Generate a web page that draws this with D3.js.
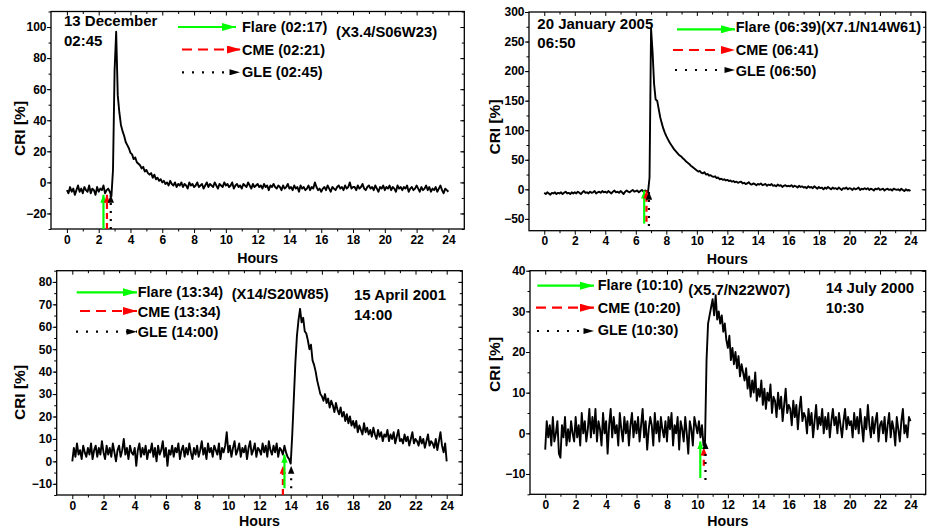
<!DOCTYPE html>
<html>
<head>
<meta charset="utf-8">
<script src="https://cdn.jsdelivr.net/npm/d3@7"></script>
<style>
  body { margin: 0; background: #fff; }
  svg { display: block; }
  text { font-family: "Liberation Sans", Arial, sans-serif; font-weight: bold; fill: #000; }
</style>
</head>
<body>
<svg width="927" height="529"></svg>
<script>
// sampling times (hours, every 6 minutes)
const hours = d3.range(241).map(i => i / 10);

// CRI [%]
const criDec13 = [
  -5,-7,-3,-6,-4,-8,-5,-2,-6,-4,-7,-3,-5,-6,-2,-7,-4,-5,-8,-3,-6,-4,-5,-2,-7,-5,-4,-6,
  -9,8,72,97,56,45,37,33,30,26,24,22,19,18,15,16,13,12,11,9,10,7,8,6,5,6,3,5,2,3,1,2,
  0,1,-1,0,-2,1,-1,-2,0,-3,-1,
  -2,0,-3,-1,-2,-4,0,-2,-1,-3,
  -2,0,-3,-2,-1,-4,-2,0,-3,-1,
  -2,-3,0,-2,-4,-1,-2,-3,0,-2,
  -1,-3,-2,0,-4,-2,-1,-3,-2,-4,
  -1,-2,-3,0,-2,-4,-1,-3,-2,-1,
  -3,-2,-4,-1,-3,-2,-5,-2,-3,-1,
  -3,-4,-2,-3,-5,-2,-4,-3,-1,-4,
  -3,-5,-2,-4,-3,-6,-2,-4,-3,-5,
  -4,-2,-5,-3,-4,0,-3,-5,-4,-6,
  -4,-3,-5,-2,-4,-6,-3,-4,-5,-3,
  -2,-4,-3,-5,-2,-4,-3,0,-4,-3,
  -3,-5,-2,-4,-3,-1,-4,-5,-3,-2,
  -4,-3,-5,-2,-4,-6,-3,-4,-2,-5,
  -3,-4,-2,-5,-3,-4,-6,-2,-4,-3,
  -5,-3,-4,-2,-6,-4,-3,-5,-4,-2,
  -4,-6,-3,-5,-4,-2,-5,-3,-6,-4,
  -5,-3,-6,-4,-2,-5,-7,-4,-5,-6
];

const criJan20 = [
  -6,-8,-5,-7,-9,-6,-7,-5,-8,-6,
  -7,-5,-8,-6,-4,-7,-6,-8,-5,-7,
  -5,-7,-4,-6,-8,-5,-3,-6,-5,-7,
  -4,-6,-5,-3,-7,-5,-4,-6,-3,-5,
  -4,-6,-3,-5,-7,-4,-2,-5,-4,-6,
  -3,-5,-8,-4,-2,-4,-5,-3,-1,-4,
  -3,-2,-5,-3,-1,-4,-2,-3,-5,
  20,272,232,178,152,150,136,122,112,103,96,90,85,80,76,72,68,65,62,59,57,55,
  52,50,47,45,43,40,38,36,34,32,
  30,31,28,27,29,25,26,23,24,22,
  21,22,19,20,17,18,16,17,15,16,
  14,15,13,14,12,13,11,12,13,10,
  11,9,10,12,9,8,10,9,7,9,
  8,10,7,8,9,6,8,7,9,6,
  7,5,8,6,7,4,6,7,5,6,
  5,7,4,6,5,3,6,4,5,3,
  4,2,5,3,4,2,5,3,1,4,
  2,3,0,3,1,4,2,0,3,1,
  2,0,3,1,-1,2,1,3,0,2,
  1,-1,2,0,1,3,-1,1,0,2,
  0,2,-1,1,0,-2,1,0,2,-1,
  0,1,-2,0,1,-1,0,-2,1,0,
  -1,0,-2,1,-1,-3,0,-2,-1,-3
];

const criApr15 = [
  0,6,2,8,3,5,1,7,4,2,
  6,3,8,1,5,7,2,6,3,9,
  4,1,7,3,6,2,8,4,0,5,
  7,2,5,10,3,6,1,7,4,3,
  6,-2,5,8,2,6,3,7,1,5,
  4,8,2,6,0,7,3,5,9,2,
  6,-2,5,3,7,2,6,4,8,1,
  5,7,2,6,3,8,4,1,6,3,
  7,2,5,9,3,6,1,8,4,6,
  2,7,5,3,8,1,6,4,7,13,
  4,7,2,6,9,3,5,8,2,6,
  4,7,1,6,9,3,5,8,2,6,
  5,3,8,4,7,2,9,5,3,7,
  4,8,2,6,5,3,7,4,2,1,
  -1,12,28,44,56,63,68,62,64,58,57,54,50,52,45,43,40,36,33,30,29,
  27,30,26,28,24,27,25,22,26,23,
  21,24,20,22,18,21,17,20,16,18,
  15,18,13,16,14,12,17,13,15,12,
  14,11,15,12,10,14,11,13,9,12,
  11,14,9,12,10,13,8,11,14,9,
  10,8,12,9,11,7,10,13,8,10,
  9,7,11,8,10,6,9,12,7,9,
  8,6,10,5,9,13,7,4,8,0
];

const criJul14 = [
  -4,3,-1,2,-3,4,-2,0,3,-5,
  -6,2,-1,4,-3,1,-2,3,0,-2,
  4,-1,2,-3,5,0,3,-2,1,6,
  -1,4,0,6,-2,3,1,-3,5,0,
  3,-5,2,6,-1,4,0,2,-3,5,
  1,-2,4,0,3,-3,2,5,-1,3,
  0,4,-2,2,6,-1,3,-4,1,4,
  2,-3,5,0,3,-2,4,1,-1,3,
  -2,4,1,5,-3,2,0,4,-4,3,
  1,-2,4,0,-5,3,1,-3,4,2,
  0,3,-1,2,-3,
  -2,18,27,29,31,33,29,34,28,30,27,29,25,27,23,21,
  24,18,21,17,20,16,19,14,17,15,
  13,16,11,14,9,13,10,15,8,11,
  9,13,7,11,6,10,8,12,5,9,
  8,4,10,6,9,3,7,11,5,7,
  6,2,8,4,7,1,6,9,3,5,
  4,0,6,2,5,-1,3,7,1,4,
  2,6,0,4,1,5,-1,3,6,2,
  4,0,5,2,-1,3,6,1,4,2,
  3,-1,5,1,4,0,6,2,-2,4,
  1,7,2,-1,4,0,3,5,-2,2,
  3,0,4,-2,2,5,-1,3,1,-3,
  4,1,-2,3,6,0,2,-1,4,3
];

// event arrows: time [h], tail and tip [%]
const eventsDec13 = [
  { kind: 'flare', t: 2.30, from: -30, to: -8 },
  { kind: 'cme',   t: 2.52, from: -30, to: -8 },
  { kind: 'gle',   t: 2.76, from: -30, to: -8 }
];
const eventsJan20 = [
  { kind: 'flare', t: 6.55, from: -58, to: -2 },
  { kind: 'cme',   t: 6.70, from: -55, to: -2 },
  { kind: 'gle',   t: 6.86, from: -62, to: -4 }
];
const eventsApr15 = [
  { kind: 'cme',   t: 13.50, from: -15, to: -2 },
  { kind: 'flare', t: 13.60, from: -12, to: 3 },
  { kind: 'gle',   t: 14.03, from: -12, to: -2 }
];
const eventsJul14 = [
  { kind: 'flare', t: 10.19, from: -11, to: -2 },
  { kind: 'cme',   t: 10.42, from: -8,  to: -3.5 },
  { kind: 'gle',   t: 10.53, from: -11.5, to: -2 }
];

const legendDec13 = ['Flare (02:17)', 'CME (02:21)', 'GLE (02:45)'];
const legendJan20 = ['Flare (06:39)(X7.1/N14W61)', 'CME (06:41)', 'GLE (06:50)'];
const legendApr15 = ['Flare (13:34)', 'CME (13:34)', 'GLE (14:00)'];
const legendJul14 = ['Flare (10:10)', 'CME (10:20)', 'GLE (10:30)'];

// styles of the three arrow kinds
const arrowStyle = {
  flare: { color: '#00ff00', dash: null,   width: 2.2 },
  cme:   { color: '#ff0000', dash: '10,6', width: 2.2 },
  gle:   { color: '#000000', dash: '2,8',  width: 2.2 }
};

// layout of each panel (pixels)
const panels = [
  {
    values: criDec13, events: eventsDec13, legend: legendDec13,
    box: { x0: 51, x1: 464.3, y0: 11.5, y1: 229 },
    yDomain: [-30, 110], yTicks: d3.range(-20, 101, 20), yMinor: d3.range(-30, 111, 10),
    legendPos: [{ x1: 178, x2: 236, y: 27 }, { x1: 182, x2: 241, y: 49.5 }, { x1: 182, x2: 240, y: 72.3 }],
    legendTextX: 242, legendBase: [31.8, 54.6, 77.4],
    notes: [
      { text: '13 December', x: 64, y: 25.5, size: 15 },
      { text: '02:45', x: 64, y: 45.5, size: 15 },
      { text: '(X3.4/S06W23)', x: 336, y: 37, size: 14.8 }
    ],
    yTitle: { x: 25, y: 128.5 }, xTitleY: 263
  },
  {
    values: criJan20, events: eventsJan20, legend: legendJan20,
    box: { x0: 529, x1: 925.7, y0: 12, y1: 230.7 },
    yDomain: [-70, 300], yTicks: d3.range(-50, 301, 50), yMinor: d3.range(-50, 301, 25),
    legendPos: [{ x1: 677, x2: 735, y: 29.3 }, { x1: 673, x2: 735, y: 50 }, { x1: 675, x2: 735, y: 70 }],
    legendTextX: 735.7, legendBase: [32, 54.6, 76.2],
    notes: [
      { text: '20 January 2005', x: 537.3, y: 28.6, size: 15 },
      { text: '06:50', x: 537.3, y: 48, size: 15 }
    ],
    yTitle: { x: 500, y: 127 }, xTitleY: 263.5
  },
  {
    values: criApr15, events: eventsApr15, legend: legendApr15,
    box: { x0: 56.7, x1: 462.3, y0: 270.7, y1: 495 },
    yDomain: [-15, 85], yTicks: d3.range(-10, 81, 10), yMinor: d3.range(-15, 86, 5),
    legendPos: [{ x1: 76.7, x2: 137, y: 292.3 }, { x1: 80, x2: 137, y: 311 }, { x1: 76, x2: 137, y: 331.7 }],
    legendTextX: 137.7, legendBase: [297, 317, 337],
    notes: [
      { text: '(X14/S20W85)', x: 231.7, y: 298.5, size: 14.8 },
      { text: '15 April 2001', x: 354, y: 300.3, size: 15 },
      { text: '14:00', x: 354, y: 320.3, size: 15 }
    ],
    yTitle: { x: 25, y: 392.5 }, xTitleY: 526
  },
  {
    values: criJul14, events: eventsJul14, legend: legendJul14,
    box: { x0: 530, x1: 925.7, y0: 270.7, y1: 494.3 },
    yDomain: [-15, 40], yTicks: d3.range(-10, 41, 10), yMinor: d3.range(-15, 41, 5),
    legendPos: [{ x1: 537.3, x2: 594, y: 285.7 }, { x1: 536, x2: 594, y: 307.7 }, { x1: 537, x2: 594, y: 331 }],
    legendTextX: 597.7, legendBase: [290.4, 313, 335.4],
    notes: [
      { text: '(X5.7/N22W07)', x: 688.3, y: 294.6, size: 14.8 },
      { text: '14 July 2000', x: 825.7, y: 293, size: 15 },
      { text: '10:30', x: 825.7, y: 313, size: 15 }
    ],
    yTitle: { x: 500, y: 364.5 }, xTitleY: 526
  }
];

const svg = d3.select('svg');
const kinds = ['flare', 'cme', 'gle'];

// arrow heads
const defs = svg.append('defs');
kinds.forEach(k => {
  // big head for the legend
  defs.append('marker')
    .attr('id', `big-${k}`)
    .attr('markerUnits', 'userSpaceOnUse')
    .attr('viewBox', '0 0 14 8')
    .attr('markerWidth', k === 'gle' ? 11 : 14)
    .attr('markerHeight', k === 'gle' ? 6 : 8)
    .attr('refX', 14).attr('refY', 4)
    .attr('orient', 'auto')
    .append('path').attr('d', 'M0,0 L14,4 L0,8 Z')
    .attr('fill', arrowStyle[k].color);
  // small head for the event arrows
  defs.append('marker')
    .attr('id', `small-${k}`)
    .attr('markerUnits', 'userSpaceOnUse')
    .attr('viewBox', '0 0 10 8')
    .attr('markerWidth', 8)
    .attr('markerHeight', 7)
    .attr('refX', 10).attr('refY', 4)
    .attr('orient', 'auto')
    .append('path').attr('d', 'M0,0 L10,4 L0,8 Z')
    .attr('fill', arrowStyle[k].color);
});

panels.forEach((p, i) => {
  const b = p.box;
  const x = d3.scaleLinear().domain([-1, 25]).range([b.x0, b.x1]);
  const y = d3.scaleLinear().domain(p.yDomain).range([b.y1, b.y0]);
  const g = svg.append('g');

  // axes: out on bottom/left, in on top/right
  const bottom = g.append('g').attr('transform', `translate(0,${b.y1})`);
  bottom.call(d3.axisBottom(x).tickValues(d3.range(1, 25, 2)).tickSize(2.5).tickFormat(''));
  bottom.append('g').call(d3.axisBottom(x).tickValues(d3.range(0, 25, 2)).tickSize(4).tickPadding(2));
  const top = g.append('g').attr('transform', `translate(0,${b.y0})`);
  top.call(d3.axisTop(x).tickValues(d3.range(1, 25, 2)).tickSize(-2.5).tickFormat(''));
  top.append('g').call(d3.axisTop(x).tickValues(d3.range(0, 25, 2)).tickSize(-4).tickFormat(''));
  const left = g.append('g').attr('transform', `translate(${b.x0},0)`);
  left.call(d3.axisLeft(y).tickValues(p.yMinor).tickSize(2.5).tickFormat(''));
  left.append('g').call(d3.axisLeft(y).tickValues(p.yTicks).tickSize(4).tickPadding(0.5));
  const right = g.append('g').attr('transform', `translate(${b.x1},0)`);
  right.call(d3.axisRight(y).tickValues(p.yMinor).tickSize(-2.5).tickFormat(''));
  right.append('g').call(d3.axisRight(y).tickValues(p.yTicks).tickSize(-4).tickFormat(''));

  g.selectAll('.domain').remove();
  g.selectAll('.tick line').attr('stroke', '#000').attr('stroke-width', 1);
  g.selectAll('.tick text').attr('font-size', 12).attr('fill', '#000')
    .attr('font-family', '"Liberation Sans", Arial, sans-serif').attr('font-weight', 'bold');

  // frame
  g.append('rect')
    .attr('x', b.x0).attr('y', b.y0)
    .attr('width', b.x1 - b.x0).attr('height', b.y1 - b.y0)
    .attr('fill', 'none').attr('stroke', '#000').attr('stroke-width', 1.3);

  // axis titles
  g.append('text')
    .attr('x', (b.x0 + b.x1) / 2).attr('y', p.xTitleY)
    .attr('text-anchor', 'middle').attr('font-size', 14.2)
    .text('Hours');
  g.append('text')
    .attr('transform', `translate(${p.yTitle.x},${p.yTitle.y}) rotate(-90)`)
    .attr('text-anchor', 'middle').attr('font-size', 15.5)
    .text('CRI [%]');

  // CRI series
  const clipId = `clip${i}`;
  g.append('clipPath').attr('id', clipId)
    .append('rect').attr('x', b.x0).attr('y', b.y0)
    .attr('width', b.x1 - b.x0).attr('height', b.y1 - b.y0);

  const line = d3.line()
    .x((d, j) => x(hours[j]))
    .y(d => y(d));
  g.append('path')
    .datum(p.values)
    .attr('clip-path', `url(#${clipId})`)
    .attr('d', line)
    .attr('fill', 'none')
    .attr('stroke', '#000')
    .attr('stroke-width', 1.9)
    .attr('stroke-linejoin', 'round');

  // event arrows
  g.selectAll('.event').data(p.events)
    .enter().append('line')
    .attr('class', 'event')
    .attr('x1', d => x(d.t)).attr('x2', d => x(d.t))
    .attr('y1', d => y(d.from)).attr('y2', d => y(d.to))
    .attr('stroke', d => arrowStyle[d.kind].color)
    .attr('stroke-width', 2.2)
    .attr('stroke-dasharray', d => d.kind === 'cme' ? '6,4' : (d.kind === 'gle' ? '2,6' : null))
    .attr('marker-end', d => `url(#small-${d.kind})`);

  // legend
  kinds.forEach((k, j) => {
    const lp = p.legendPos[j];
    g.append('line')
      .attr('x1', lp.x1).attr('x2', lp.x2)
      .attr('y1', lp.y).attr('y2', lp.y)
      .attr('stroke', arrowStyle[k].color)
      .attr('stroke-width', arrowStyle[k].width)
      .attr('stroke-dasharray', arrowStyle[k].dash)
      .attr('marker-end', `url(#big-${k})`);
    g.append('text')
      .attr('x', p.legendTextX).attr('y', p.legendBase[j])
      .attr('font-size', 14.5)
      .text(p.legend[j]);
  });

  p.notes.forEach(n => {
    g.append('text')
      .attr('x', n.x).attr('y', n.y)
      .attr('font-size', n.size)
      .text(n.text);
  });
});
</script>
</body>
</html>
